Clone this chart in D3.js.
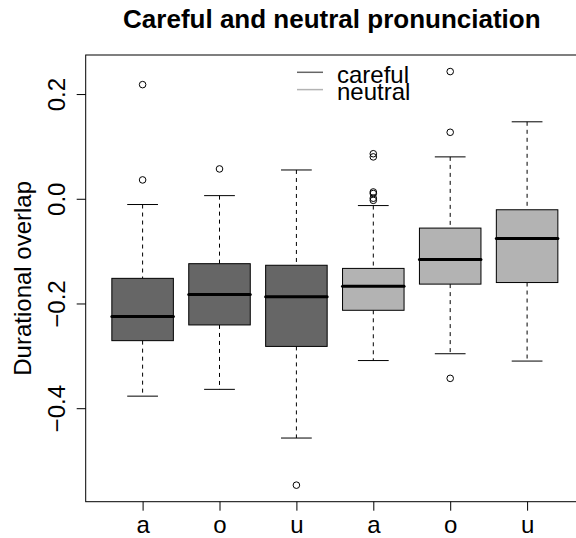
<!DOCTYPE html>
<html>
<head>
<meta charset="utf-8">
<script src="https://cdn.jsdelivr.net/npm/d3@7"></script>
<style>
  body { margin: 0; background: #fff; }
  svg { display: block; font-family: "Liberation Sans", Arial, Helvetica, sans-serif; }
</style>
</head>
<body>
<svg id="drawing_region"></svg>
<script>
// values
const vowels     = ['a', 'o', 'u', 'a', 'o', 'u'];
const conditions = ['careful', 'careful', 'careful', 'neutral', 'neutral', 'neutral'];
const whiskerLow = [-0.377, -0.364, -0.457, -0.309, -0.296, -0.310];
const q1         = [-0.271, -0.241, -0.282, -0.213, -0.163, -0.160];
const medians    = [-0.225, -0.183, -0.187, -0.167, -0.116, -0.076];
const q3         = [-0.152, -0.124, -0.127, -0.133, -0.056, -0.021];
const whiskerHigh= [-0.011, 0.006, 0.055, -0.013, 0.080, 0.147];
const outliers   = [
    [0.218, 0.036],
    [0.057],
    [-0.547],
    [0.086, 0.080, 0.013, 0.010, 0.001, -0.003],
    [0.243, 0.127, -0.343],
    []
];
const yTicks = [-0.4, -0.2, 0.0, 0.2];
const legendLabels = ['careful', 'neutral'];
const fills = { careful: '#666666', neutral: '#b3b3b3' };

const config = {
    width: 576,
    height: 538,
    left: 85.7, top: 55, right: 584, bottom: 501.7
};

const svg = d3.select('#drawing_region')
    .attr('width', config.width)
    .attr('height', config.height);

svg.append('rect')
    .attr('width', config.width)
    .attr('height', config.height)
    .attr('fill', '#fff');

// R style: 4% extension around the data range
const allVals = whiskerLow.concat(whiskerHigh, q1, q3, outliers.flat());
const ymin = d3.min(allVals), ymax = d3.max(allVals);
const pad = (ymax - ymin) * 0.04;

const yscale = d3.scaleLinear()
    .domain([ymin - pad, ymax + pad])
    .range([config.bottom, config.top]);

const xscale = d3.scaleLinear()
    .domain([0.5 - 0.24, vowels.length + 0.5 + 0.24])
    .range([config.left, config.right]);

const idx = d3.range(vowels.length);
const boxW = xscale(1.4) - xscale(1);
const capW = xscale(1.2) - xscale(1);

// boxes, whiskers, outliers
const g = svg.append('g');
idx.forEach(i => {
    const cx = xscale(i + 1);
    g.append('line')
        .attr('x1', cx).attr('x2', cx)
        .attr('y1', yscale(whiskerHigh[i])).attr('y2', yscale(q3[i]))
        .attr('stroke', '#000').attr('stroke-dasharray', '4,4');
    g.append('line')
        .attr('x1', cx).attr('x2', cx)
        .attr('y1', yscale(q1[i])).attr('y2', yscale(whiskerLow[i]))
        .attr('stroke', '#000').attr('stroke-dasharray', '4,4');
    [whiskerHigh[i], whiskerLow[i]].forEach(v => {
        g.append('line')
            .attr('x1', cx - capW).attr('x2', cx + capW)
            .attr('y1', yscale(v)).attr('y2', yscale(v))
            .attr('stroke', '#000');
    });
    g.append('rect')
        .attr('x', cx - boxW)
        .attr('y', yscale(q3[i]))
        .attr('width', 2 * boxW)
        .attr('height', yscale(q1[i]) - yscale(q3[i]))
        .attr('fill', fills[conditions[i]])
        .attr('stroke', '#000');
    g.append('line')
        .attr('x1', cx - boxW).attr('x2', cx + boxW)
        .attr('y1', yscale(medians[i])).attr('y2', yscale(medians[i]))
        .attr('stroke', '#000').attr('stroke-width', 3)
        .attr('stroke-linecap', 'round');
    g.selectAll(null)
        .data(outliers[i])
        .enter()
        .append('circle')
        .attr('cx', cx)
        .attr('cy', d => yscale(d))
        .attr('r', 3.3)
        .attr('fill', 'none')
        .attr('stroke', '#000');
});

// frame
svg.append('rect')
    .attr('x', config.left).attr('y', config.top)
    .attr('width', config.right - config.left)
    .attr('height', config.bottom - config.top)
    .attr('fill', 'none').attr('stroke', '#000');

// axes
const yaxis = d3.axisLeft(yscale)
    .tickValues(yTicks)
    .tickSize(9)
    .tickFormat(d => d3.format('.1f')(d).replace('-', '\u2212'));
const yaxis_group = svg.append('g')
    .attr('transform', `translate(${config.left},0)`)
    .call(yaxis);
yaxis_group.select('.domain').remove();
yaxis_group.selectAll('text')
    .attr('font-size', 24)
    .attr('font-family', '"Liberation Sans", Arial, sans-serif')
    .attr('fill', '#000')
    .attr('x', null).attr('dy', null)
    .attr('text-anchor', 'middle')
    .attr('transform', 'translate(-21,0) rotate(-90)');

const xaxis = d3.axisBottom(xscale)
    .tickValues(idx.map(i => i + 1))
    .tickSize(9)
    .tickFormat((d, i) => vowels[i]);
const xaxis_group = svg.append('g')
    .attr('transform', `translate(0,${config.bottom})`)
    .call(xaxis);
xaxis_group.select('.domain').remove();
xaxis_group.selectAll('text')
    .attr('font-size', 24)
    .attr('font-family', '"Liberation Sans", Arial, sans-serif')
    .attr('fill', '#000')
    .attr('y', 31).attr('dy', null);

// titles
svg.append('text')
    .text('Careful and neutral pronunciation')
    .attr('x', (config.left + config.right) / 2 - 3)
    .attr('y', 28)
    .attr('text-anchor', 'middle')
    .attr('font-size', 26)
    .attr('font-weight', 'bold');

svg.append('text')
    .text('Durational overlap')
    .attr('transform', `translate(31,${(config.top + config.bottom) / 2}) rotate(-90)`)
    .attr('text-anchor', 'middle')
    .attr('font-size', 24);

// legend
const legend = svg.append('g');
legendLabels.forEach((lab, i) => {
    const y = 72.3 + i * 17.3;
    legend.append('line')
        .attr('x1', 297).attr('x2', 323)
        .attr('y1', y).attr('y2', y)
        .attr('stroke', fills[lab]).attr('stroke-width', 1.5);
    legend.append('text')
        .text(lab)
        .attr('x', 337)
        .attr('y', y + 10.4)
        .attr('font-size', 24);
});
</script>
</body>
</html>
